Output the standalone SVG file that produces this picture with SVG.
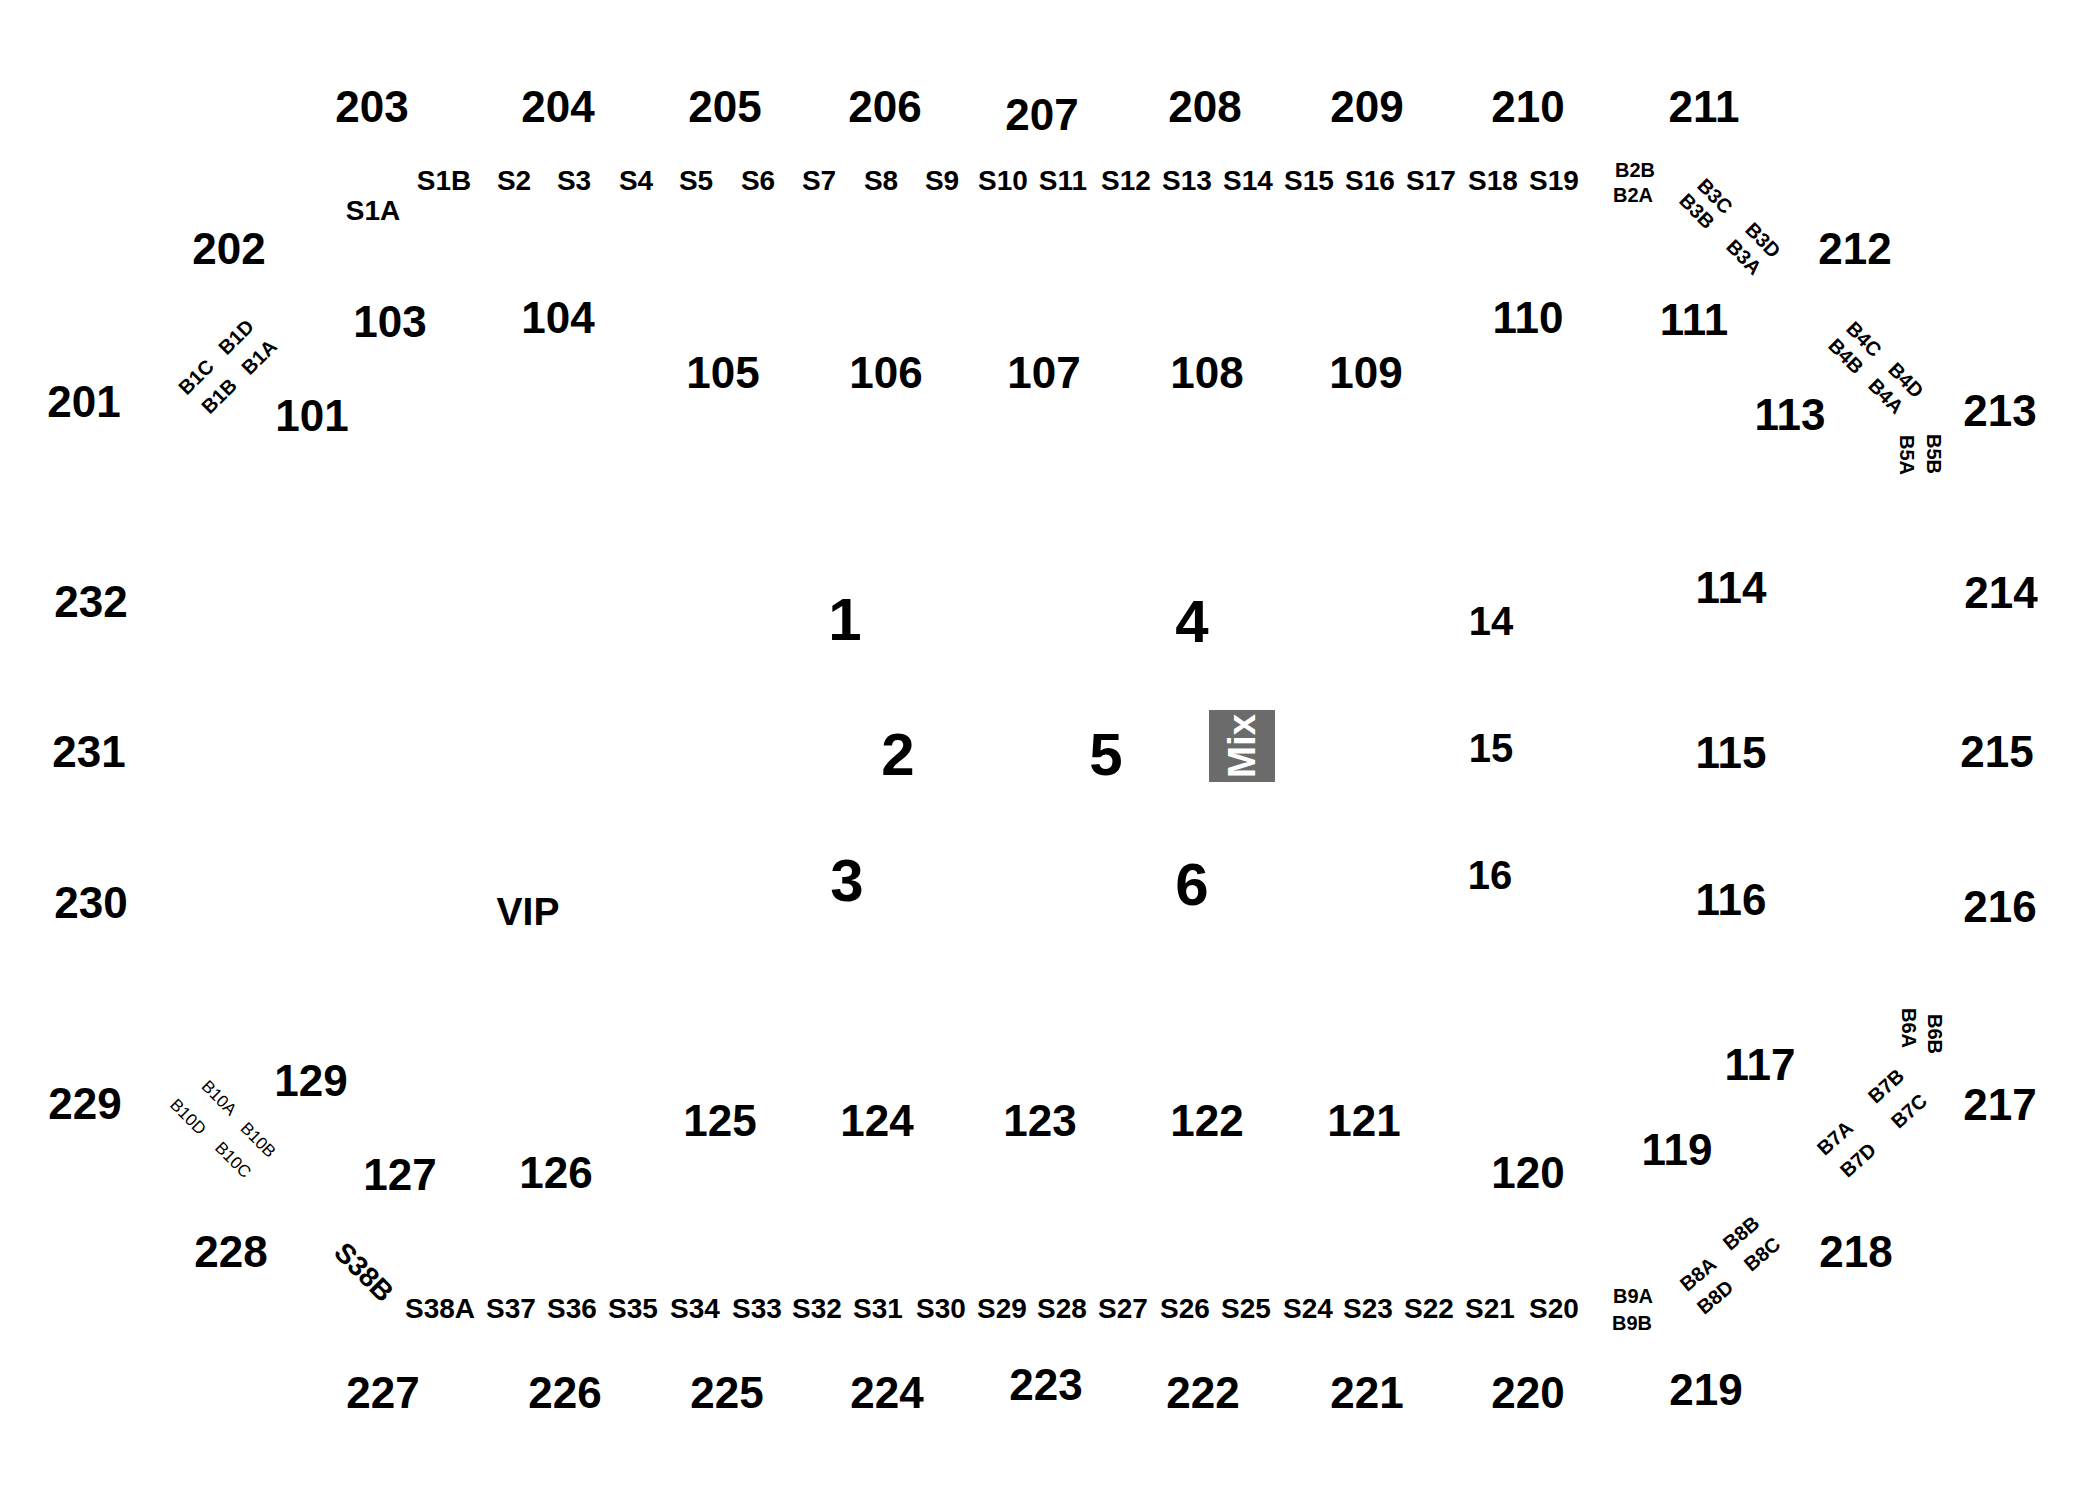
<svg xmlns="http://www.w3.org/2000/svg" width="2100" height="1504" viewBox="0 0 2100 1504">
<style>
text{font-family:"Liberation Sans",Arial,sans-serif;fill:#000;text-anchor:middle}
.n{font-size:44px;font-weight:bold}
.s{font-size:28px;font-weight:bold}
.b{font-size:20px;font-weight:bold}
.br{font-size:20px;font-weight:bold}
.bs{font-size:17px;font-weight:normal}
.big{font-size:60px;font-weight:bold}
.m{font-size:40px;font-weight:bold}
.vip{font-size:39px;font-weight:bold}
.c{dominant-baseline:central}
.mix{font-size:38px;font-weight:bold;fill:#fff}
</style>
<rect width="2100" height="1504" fill="#fff"/>
<g id="connectors"/>
<!-- upper ring 2xx -->
<g id="s203"><text class="n" x="372" y="122">203</text></g>
<g id="s204"><text class="n" x="558" y="122">204</text></g>
<g id="s205"><text class="n" x="725" y="122">205</text></g>
<g id="s206"><text class="n" x="885" y="122">206</text></g>
<g id="s207"><text class="n" x="1042" y="130">207</text></g>
<g id="s208"><text class="n" x="1205" y="122">208</text></g>
<g id="s209"><text class="n" x="1367" y="122">209</text></g>
<g id="s210"><text class="n" x="1528" y="122">210</text></g>
<g id="s211"><text class="n" x="1704" y="122">211</text></g>
<g id="s202"><text class="n" x="229" y="264">202</text></g>
<g id="s212"><text class="n" x="1855" y="264">212</text></g>
<g id="s201"><text class="n" x="84" y="417">201</text></g>
<g id="s213"><text class="n" x="2000" y="426">213</text></g>
<g id="s232"><text class="n" x="91" y="617">232</text></g>
<g id="s214"><text class="n" x="2001" y="608">214</text></g>
<g id="s231"><text class="n" x="89" y="767">231</text></g>
<g id="s215"><text class="n" x="1997" y="767">215</text></g>
<g id="s230"><text class="n" x="91" y="918">230</text></g>
<g id="s216"><text class="n" x="2000" y="922">216</text></g>
<g id="s229"><text class="n" x="85" y="1119">229</text></g>
<g id="s217"><text class="n" x="2000" y="1120">217</text></g>
<g id="s228"><text class="n" x="231" y="1267">228</text></g>
<g id="s218"><text class="n" x="1856" y="1267">218</text></g>
<g id="s227"><text class="n" x="383" y="1408">227</text></g>
<g id="s226"><text class="n" x="565" y="1408">226</text></g>
<g id="s225"><text class="n" x="727" y="1408">225</text></g>
<g id="s224"><text class="n" x="887" y="1408">224</text></g>
<g id="s223"><text class="n" x="1046" y="1400">223</text></g>
<g id="s222"><text class="n" x="1203" y="1408">222</text></g>
<g id="s221"><text class="n" x="1367" y="1408">221</text></g>
<g id="s220"><text class="n" x="1528" y="1408">220</text></g>
<g id="s219"><text class="n" x="1706" y="1405">219</text></g>
<!-- lower ring 1xx -->
<g id="s103"><text class="n" x="390" y="337">103</text></g>
<g id="s104"><text class="n" x="558" y="333">104</text></g>
<g id="s101"><text class="n" x="312" y="431">101</text></g>
<g id="s105"><text class="n" x="723" y="388">105</text></g>
<g id="s106"><text class="n" x="886" y="388">106</text></g>
<g id="s107"><text class="n" x="1044" y="388">107</text></g>
<g id="s108"><text class="n" x="1207" y="388">108</text></g>
<g id="s109"><text class="n" x="1366" y="388">109</text></g>
<g id="s110"><text class="n" x="1528" y="333">110</text></g>
<g id="s111"><text class="n" x="1694" y="335">111</text></g>
<g id="s113"><text class="n" x="1790" y="430">113</text></g>
<g id="s114"><text class="n" x="1731" y="603">114</text></g>
<g id="s115"><text class="n" x="1731" y="768">115</text></g>
<g id="s116"><text class="n" x="1731" y="915">116</text></g>
<g id="s117"><text class="n" x="1760" y="1080">117</text></g>
<g id="s119"><text class="n" x="1677" y="1165">119</text></g>
<g id="s120"><text class="n" x="1528" y="1188">120</text></g>
<g id="s121"><text class="n" x="1364" y="1136">121</text></g>
<g id="s122"><text class="n" x="1207" y="1136">122</text></g>
<g id="s123"><text class="n" x="1040" y="1136">123</text></g>
<g id="s124"><text class="n" x="877" y="1136">124</text></g>
<g id="s125"><text class="n" x="720" y="1136">125</text></g>
<g id="s126"><text class="n" x="556" y="1188">126</text></g>
<g id="s127"><text class="n" x="400" y="1190">127</text></g>
<g id="s129"><text class="n" x="311" y="1096">129</text></g>
<!-- floor -->
<g id="f14"><text class="m" x="1491" y="635">14</text></g>
<g id="f15"><text class="m" x="1491" y="762">15</text></g>
<g id="f16"><text class="m" x="1490" y="889">16</text></g>
<g id="f1"><text class="big" x="845" y="640">1</text></g>
<g id="f2"><text class="big" x="898" y="775">2</text></g>
<g id="f3"><text class="big" x="847" y="901">3</text></g>
<g id="f4"><text class="big" x="1192" y="642">4</text></g>
<g id="f5"><text class="big" x="1106" y="775">5</text></g>
<g id="f6"><text class="big" x="1192" y="905">6</text></g>
<g id="vip"><text class="vip" x="528" y="925">VIP</text></g>
<g id="mix"><rect x="1209" y="710" width="66" height="72" fill="#6b6b6b"/><text class="mix c" transform="translate(1242 746) rotate(-90)" textLength="64" lengthAdjust="spacingAndGlyphs">Mix</text></g>
<!-- top suites -->
<g id="S1A"><text class="s" x="373" y="220">S1A</text></g>
<g id="S1B"><text class="s" x="444" y="190">S1B</text></g>
<g id="S2"><text class="s" x="514" y="190">S2</text></g>
<g id="S3"><text class="s" x="574" y="190">S3</text></g>
<g id="S4"><text class="s" x="636" y="190">S4</text></g>
<g id="S5"><text class="s" x="696" y="190">S5</text></g>
<g id="S6"><text class="s" x="758" y="190">S6</text></g>
<g id="S7"><text class="s" x="819" y="190">S7</text></g>
<g id="S8"><text class="s" x="881" y="190">S8</text></g>
<g id="S9"><text class="s" x="942" y="190">S9</text></g>
<g id="S10"><text class="s" x="1003" y="190">S10</text></g>
<g id="S11"><text class="s" x="1063" y="190">S11</text></g>
<g id="S12"><text class="s" x="1126" y="190">S12</text></g>
<g id="S13"><text class="s" x="1187" y="190">S13</text></g>
<g id="S14"><text class="s" x="1248" y="190">S14</text></g>
<g id="S15"><text class="s" x="1309" y="190">S15</text></g>
<g id="S16"><text class="s" x="1370" y="190">S16</text></g>
<g id="S17"><text class="s" x="1431" y="190">S17</text></g>
<g id="S18"><text class="s" x="1493" y="190">S18</text></g>
<g id="S19"><text class="s" x="1554" y="190">S19</text></g>
<!-- bottom suites -->
<g id="S38B"><text class="s c" transform="translate(364 1272) rotate(45)">S38B</text></g>
<g id="S38A"><text class="s" x="440" y="1318">S38A</text></g>
<g id="S37"><text class="s" x="511" y="1318">S37</text></g>
<g id="S36"><text class="s" x="572" y="1318">S36</text></g>
<g id="S35"><text class="s" x="633" y="1318">S35</text></g>
<g id="S34"><text class="s" x="695" y="1318">S34</text></g>
<g id="S33"><text class="s" x="757" y="1318">S33</text></g>
<g id="S32"><text class="s" x="817" y="1318">S32</text></g>
<g id="S31"><text class="s" x="878" y="1318">S31</text></g>
<g id="S30"><text class="s" x="941" y="1318">S30</text></g>
<g id="S29"><text class="s" x="1002" y="1318">S29</text></g>
<g id="S28"><text class="s" x="1062" y="1318">S28</text></g>
<g id="S27"><text class="s" x="1123" y="1318">S27</text></g>
<g id="S26"><text class="s" x="1185" y="1318">S26</text></g>
<g id="S25"><text class="s" x="1246" y="1318">S25</text></g>
<g id="S24"><text class="s" x="1308" y="1318">S24</text></g>
<g id="S23"><text class="s" x="1368" y="1318">S23</text></g>
<g id="S22"><text class="s" x="1429" y="1318">S22</text></g>
<g id="S21"><text class="s" x="1490" y="1318">S21</text></g>
<g id="S20"><text class="s" x="1554" y="1318">S20</text></g>
<!-- boxes -->
<g id="B1C"><text class="b c" transform="translate(196 377) rotate(-45)">B1C</text></g>
<g id="B1D"><text class="b c" transform="translate(236 337) rotate(-45)">B1D</text></g>
<g id="B1B"><text class="b c" transform="translate(219 396) rotate(-45)">B1B</text></g>
<g id="B1A"><text class="b c" transform="translate(259 357) rotate(-45)">B1A</text></g>
<g id="B2B"><text class="b" x="1635" y="177">B2B</text></g>
<g id="B2A"><text class="b" x="1633" y="202">B2A</text></g>
<g id="B3C"><text class="br c" transform="translate(1715 196) rotate(45)">B3C</text></g>
<g id="B3B"><text class="br c" transform="translate(1697 211) rotate(45)">B3B</text></g>
<g id="B3D"><text class="br c" transform="translate(1763 240) rotate(45)">B3D</text></g>
<g id="B3A"><text class="br c" transform="translate(1744 257) rotate(45)">B3A</text></g>
<g id="B4C"><text class="br c" transform="translate(1864 339) rotate(45)">B4C</text></g>
<g id="B4B"><text class="br c" transform="translate(1846 356) rotate(45)">B4B</text></g>
<g id="B4D"><text class="br c" transform="translate(1906 380) rotate(45)">B4D</text></g>
<g id="B4A"><text class="br c" transform="translate(1886 396) rotate(45)">B4A</text></g>
<g id="B5A"><text class="b c" transform="translate(1907 455) rotate(90)">B5A</text></g>
<g id="B5B"><text class="b c" transform="translate(1934 454) rotate(90)">B5B</text></g>
<g id="B6A"><text class="b c" transform="translate(1909 1028) rotate(90)">B6A</text></g>
<g id="B6B"><text class="b c" transform="translate(1935 1034) rotate(90)">B6B</text></g>
<g id="B7B"><text class="b c" transform="translate(1886 1086) rotate(-42)">B7B</text></g>
<g id="B7C"><text class="b c" transform="translate(1909 1111) rotate(-42)">B7C</text></g>
<g id="B7A"><text class="b c" transform="translate(1835 1138) rotate(-42)">B7A</text></g>
<g id="B7D"><text class="b c" transform="translate(1858 1160) rotate(-42)">B7D</text></g>
<g id="B8B"><text class="b c" transform="translate(1741 1233) rotate(-40)">B8B</text></g>
<g id="B8C"><text class="b c" transform="translate(1762 1254) rotate(-40)">B8C</text></g>
<g id="B8A"><text class="b c" transform="translate(1698 1274) rotate(-40)">B8A</text></g>
<g id="B8D"><text class="b c" transform="translate(1715 1297) rotate(-40)">B8D</text></g>
<g id="B9A"><text class="b" x="1633" y="1303">B9A</text></g>
<g id="B9B"><text class="b" x="1632" y="1330">B9B</text></g>
<g id="B10A"><text class="bs c" transform="translate(219 1098) rotate(45)">B10A</text></g>
<g id="B10D"><text class="bs c" transform="translate(188 1117) rotate(45)">B10D</text></g>
<g id="B10B"><text class="bs c" transform="translate(258 1140) rotate(45)">B10B</text></g>
<g id="B10C"><text class="bs c" transform="translate(233 1160) rotate(45)">B10C</text></g>
</svg>
